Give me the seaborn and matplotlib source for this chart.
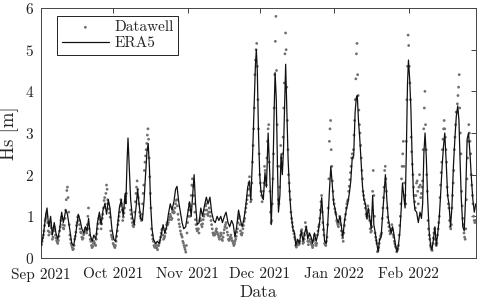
import numpy as np
import pandas as pd
import matplotlib
matplotlib.use("Agg")
import matplotlib.pyplot as plt
import matplotlib.dates as mdates
import seaborn as sns

# ---------------- data ----------------
start = "2021-09-01"

# ERA5 (knot times in days since 1 Sep 2021, Hs in m)
era5_day = [0.0, 1.0, 2.0, 2.5, 3.2, 4.0, 4.7, 5.5, 6.2, 7.0, 7.8, 8.6, 9.3, 10.3, 11.0, 11.8, 12.8, 13.6, 14.5, 15.5,
            16.3, 17.0, 17.8, 18.5, 19.2, 19.8, 20.5, 21.3, 22.0, 22.8, 23.5, 24.3, 25.0, 25.8, 26.6, 27.3, 28.0, 28.7,
            29.5, 30.3, 31.0,
            31.8, 32.6, 33.4, 34.2, 35.0, 35.3, 35.8, 36.2, 36.7, 37.3, 38.0, 38.8, 39.6, 40.2, 40.8, 41.5, 42.2, 42.9,
            43.5, 44.1, 44.6, 45.1, 45.6, 46.2, 46.8, 47.6, 48.4, 49.2, 50.0, 50.8, 51.5, 52.3, 53.0, 53.8, 54.5, 55.3,
            56.0, 56.6, 57.3, 58.0, 58.7, 59.4, 60.2,
            61.0, 61.8, 62.5, 63.2, 63.7, 64.3, 65.0, 65.8, 66.5, 67.2, 68.0, 68.8, 69.5, 70.3, 71.0, 71.8, 72.5, 73.3,
            74.0, 74.8, 75.5, 76.3, 77.0, 77.8, 78.5, 79.3, 80.0, 80.7, 81.4, 82.2, 83.0, 83.7, 84.5, 85.3, 86.0, 86.7,
            87.3, 88.0, 88.6, 89.2, 89.6, 90.0, 90.5, 91.0,
            91.5, 92.5, 93.2, 93.8, 94.5, 95.2, 95.8, 96.5, 97.0, 97.4, 97.9, 98.4, 98.8, 99.4, 99.9, 100.4, 100.9,
            101.4, 101.8, 102.3, 102.8, 103.4, 104.0, 104.8, 105.5, 106.0, 106.8, 107.5, 108.3, 109.0, 109.7, 110.4,
            111.0, 111.7, 112.4, 113.0, 113.8, 114.5, 115.3, 116.0, 116.8, 117.5, 118.0, 118.7, 119.3, 120.0, 120.6,
            121.2,
            121.8, 122.3, 123.0, 123.7, 124.4, 125.0, 125.6, 126.3, 127.0, 127.6, 128.3, 128.9, 129.5, 130.1, 130.7,
            131.2, 131.6, 132.1, 132.6, 133.2, 133.8, 134.4, 135.0, 135.6, 136.2, 136.8, 137.4, 138.0, 138.5, 139.1,
            139.7, 140.3, 140.9, 141.5, 142.1, 142.7, 143.3, 143.9, 144.5, 145.1, 145.7, 146.3, 146.9, 147.5, 148.1,
            148.7, 149.3, 149.9, 150.4, 151.0, 151.5, 152.0, 152.5, 152.9,
            153.4, 153.9, 154.4, 155.0, 155.6, 156.3, 157.0, 157.7, 158.3, 158.8, 159.3, 159.8, 160.3, 160.9, 161.5,
            162.1, 162.7, 163.3, 163.9, 164.5, 165.1, 165.7, 166.3, 166.9, 167.5, 168.0, 168.6, 169.2, 169.8, 170.4,
            171.0, 171.6, 172.2, 172.8, 173.4, 173.9, 174.4, 174.9, 175.5, 176.1, 176.7, 177.3, 177.9, 178.5, 179.1,
            179.7, 180.3, 180.9]
era5_hs = [0.30, 0.55, 1.05, 1.20, 0.75, 1.00, 0.55, 0.85, 0.60, 0.45, 0.70, 1.10, 0.85, 1.15, 1.05, 0.75, 0.35, 0.30,
           0.60, 1.05, 0.90, 0.70, 0.60, 0.75, 0.65, 0.95, 0.55, 0.40, 0.55, 0.45, 0.85, 1.10, 0.80, 1.15, 1.30, 1.05,
           1.40, 1.20, 0.70, 0.45, 0.40,
           0.75, 1.20, 1.40, 1.00, 1.55, 1.30, 2.30, 2.88, 2.20, 1.40, 1.00, 0.80, 1.25, 1.65, 1.30, 0.95, 0.90, 1.40,
           2.00, 2.55, 2.75, 2.20, 1.30, 0.70, 0.45, 0.35, 0.40, 0.35, 0.55, 0.80, 0.60, 0.75, 1.05, 1.30, 1.15, 1.35,
           1.65, 1.72, 1.35, 1.10, 0.85, 0.70, 0.75,
           1.05, 1.35, 1.00, 1.60, 2.00, 1.30, 0.80, 0.85, 1.20, 1.00, 1.25, 1.46, 1.30, 1.46, 1.10, 0.90, 0.85, 1.00,
           0.90, 1.00, 0.85, 1.00, 1.10, 0.85, 0.75, 0.90, 0.80, 0.50, 0.75, 1.15, 0.90, 0.75, 0.95, 1.30, 1.70, 1.85,
           1.40, 2.40, 3.50, 4.60, 5.00, 4.50, 3.00, 2.00,
           1.60, 1.40, 2.05, 1.70, 3.00, 2.00, 0.80, 2.00, 3.50, 4.45, 3.80, 2.20, 1.10, 1.50, 2.50, 2.00, 2.60,
           3.80, 4.65, 3.50, 2.40, 1.60, 1.10, 0.70, 0.60, 0.30, 0.45, 0.35, 0.65, 0.40, 0.60, 0.75,
           0.45, 0.60, 0.50, 0.35, 0.60, 0.40, 0.60, 0.90, 1.45, 0.80, 0.40, 0.35, 0.80, 1.60, 2.20,
           1.75,
           1.30, 1.20, 0.95, 0.85, 1.00, 0.75, 0.50, 0.90, 1.15, 1.30, 1.55, 1.85, 2.40, 2.45, 3.50,
           3.85, 3.90, 3.30, 2.90, 2.30, 1.70, 1.40, 1.30, 0.95, 1.20, 0.95, 0.70, 1.50, 0.80, 0.60,
           0.35, 0.15, 0.45, 0.50, 1.00, 1.50, 2.00, 1.40, 0.95, 0.75, 0.60, 0.75, 0.55, 0.30, 0.15,
           0.30, 0.60, 1.20, 1.80, 1.45, 1.20, 2.50, 4.20, 4.75,
           4.30, 3.60, 2.45, 1.50, 1.15, 1.10, 0.85, 1.10, 0.95, 1.30, 2.50, 3.00, 2.45, 1.40, 0.65,
           0.30, 0.20, 0.45, 0.75, 0.30, 0.60, 0.95, 1.55, 2.20, 2.70, 3.00, 2.30, 1.50, 1.27, 0.75,
           1.25, 2.20, 2.85, 3.40, 3.65, 3.30, 2.30, 1.40, 0.75, 0.65, 1.50, 2.85, 3.00, 2.50, 1.90,
           1.40, 1.10, 1.30]

# Datawell buoy, one value every 6 h (4 per day, one row per day), by month
nan = np.nan
dw_sep = [0.30, 0.33, 0.40, 0.48, 0.55, 0.65, 0.78, 0.90, 0.95, 1.05, 1.00, 0.85, 0.65, 0.55, 0.62, 0.78,
          0.85, 0.72, 0.58, 0.45, 0.50, 0.65, 0.75, 0.70, 0.55, 0.48, 0.42, 0.38, 0.35, 0.42, 0.52, 0.65,
          0.75, 0.90, 0.98, 0.95, 0.80, 0.72, 0.70, 0.78, 0.95, 1.15, 1.40, 1.62, 1.70, 1.45, 1.10, 0.80,
          0.55, 0.45, 0.35, 0.30, 0.25, 0.20, 0.22, 0.30, 0.45, 0.52, 0.62, 0.78, 0.85, 0.98, 1.00, 0.90,
          0.80, 0.70, 0.62, 0.60, 0.50, 0.45, 0.48, 0.56, 0.60, 0.68, 0.72, 0.65, 0.60, 0.80, 1.00, 1.20,
          0.70, 0.55, 0.45, 0.40, 0.30, 0.25, 0.28, 0.35, 0.40, 0.36, 0.32, 0.30, 0.45, 0.58, 0.70, 0.82,
          0.95, 1.00, 0.92, 0.85, 0.70, 0.82, 0.95, 1.05, 1.20, 1.38, 1.45, 1.30, 1.55, 1.75, 1.65, 1.40,
          1.30, 1.18, 1.08, 0.98, 0.65, 0.55, 0.50, 0.45]
dw_oct = [0.35, 0.32, 0.28, 0.25, 0.30, 0.40, 0.52, 0.65, 0.80, 0.90, 1.00, 1.10, 1.25, 1.40, 1.30, 1.15,
          0.90, 0.98, 1.08, 1.20, 1.35, 1.48, 1.55, nan, nan, nan, nan, nan, nan, 1.15, 1.05, 0.95,
          0.85, 0.78, 0.75, 0.80, 1.10, 1.35, 1.55, 1.70, 1.85, 1.65, 1.45, 1.30, 1.10, 1.00, 0.95, 0.90,
          1.05, 1.30, 1.55, 1.75, 2.10, 2.30, 2.45, 2.60, 2.75, 2.95, 3.10, 2.85, 2.40, 1.95, 1.55, 1.20,
          0.70, 0.55, 0.45, 0.40, 0.30, 0.27, 0.25, 0.35, 0.30, 0.24, 0.20, 0.30, 0.30, 0.36, 0.42, 0.50,
          0.60, 0.68, 0.70, 0.55, 0.45, 0.48, 0.52, 0.60, 0.70, 0.80, 0.85, 0.80, 0.85, 0.92, 0.98, 1.05,
          1.00, 0.92, 0.95, 1.10, 1.15, 1.08, 1.10, 1.20, 1.30, 1.38, 1.40, 1.25, 1.05, 0.92, 0.82, 0.75,
          0.65, 0.58, 0.54, 0.50, 0.40, 0.36, 0.30, 0.25, 0.20, 0.14, 0.30, 0.60]
dw_nov = [0.85, 1.00, 1.15, 1.30, 1.00, 1.25, 1.50, 1.75, 1.90, 1.72, 1.50, 1.30, 1.10, 0.92, 0.80, 0.70,
          0.65, 0.68, 0.70, 0.60, 0.90, 0.95, 0.90, 0.80, 0.75, 0.82, 0.92, 1.00, 1.05, 1.15, 1.25, 1.30,
          1.15, 1.05, 1.02, 1.10, 1.20, 1.10, 1.00, 0.90, 0.80, 0.70, 0.60, 0.55, 0.60, 0.55, 0.58, 0.65,
          0.70, 0.62, 0.58, 0.55, 0.50, 0.45, 0.52, 0.60, 0.55, 0.45, 0.42, 0.50, 0.60, 0.68, 0.75, 0.80,
          0.85, 0.72, 0.62, 0.55, 0.45, 0.42, 0.45, 0.50, 0.55, 0.48, 0.42, 0.40, 0.35, 0.30, 0.34, 0.40,
          0.45, 0.52, 0.62, 0.70, 0.85, 0.95, 1.00, 0.80, 0.65, 0.58, 0.55, 0.60, 0.70, 0.78, 0.88, 0.95,
          1.10, 1.20, 1.30, 1.40, 1.50, 1.65, 1.80, 1.95, 1.50, 1.35, 1.40, 1.80, 2.30, 2.70, 3.10, 3.60,
          4.40, 4.75, 5.00, 5.15, 4.60, 3.80, 3.10, 2.50]
dw_dec = [2.00, 1.80, 1.60, 1.50, 1.35, 1.45, 1.60, 1.80, 2.20, 2.10, 1.90, 1.75, 2.40, 2.80, 3.10, 3.20,
          2.30, 1.60, 1.10, 0.85, 0.90, 1.30, 1.90, 2.50, 3.60, 4.40, 5.20, 5.80, 4.50, 3.20, 2.20, 1.40,
          1.30, 1.70, 2.20, 2.70, 2.40, 2.25, 2.50, 2.90, 3.60, 4.20, 4.90, 5.40, 5.00, 4.10, 3.30, 2.60,
          2.00, 1.80, 1.60, 1.40, 1.10, 0.95, 0.85, 0.75, 0.65, 0.58, 0.50, 0.45, 0.30, 0.26, 0.30, 0.40,
          0.35, 0.32, 0.34, 0.40, 0.55, 0.65, 0.68, 0.60, 0.35, 0.38, 0.45, 0.55, 0.85, 0.75, 0.65, 0.60,
          0.40, 0.32, 0.40, 0.55, 0.45, 0.38, 0.34, 0.30, 0.25, 0.30, 0.42, 0.55, 0.45, 0.35, 0.30, 0.35,
          0.55, 0.65, 0.75, 0.80, 0.95, 1.15, 1.35, 1.50, 1.10, 0.85, 0.68, 0.55, 0.35, 0.32, 0.30, 0.40,
          0.50, 0.80, 1.20, 1.90, 2.80, 3.10, 3.30, 2.60, 2.20, 1.85, 1.60, 1.40]
dw_jan = [1.30, 1.18, 1.10, 1.05, 0.90, 0.85, 0.80, 0.75, 0.85, 1.00, 0.95, 0.80, 0.65, 0.55, 0.48, 0.40,
          0.60, 0.78, 0.92, 1.05, 1.20, 1.30, 1.36, 1.40, 1.60, 1.72, 1.88, 2.05, 2.20, 2.40, 2.50, 2.40,
          2.60, 2.95, 3.30, 3.80, 4.30, 4.90, 5.15, 4.40, 3.90, 3.55, 3.20, 3.00, 2.70, 2.40, 2.10, 1.90,
          1.60, 1.50, 1.40, 1.30, 1.20, 1.05, 1.00, 0.95, 1.25, 1.15, 1.00, 0.90, 0.70, 0.62, 0.65, 0.75,
          1.60, 2.10, 1.50, 1.00, 0.60, 0.50, 0.42, 0.35, 0.15, 0.18, 0.25, 0.35, 0.45, 0.52, 0.56, 0.60,
          0.95, 1.20, 1.45, 1.70, 2.10, 2.20, 1.90, 1.60, 1.20, 0.98, 0.85, 0.75, 0.65, 0.58, 0.60, 0.70,
          0.80, 0.68, 0.56, 0.50, 0.40, 0.34, 0.28, 0.25, 0.15, 0.18, 0.22, 0.30, 0.55, 0.78, 1.00, 1.30,
          1.90, 2.20, 2.50, 2.80, 2.20, 1.80, 1.50, 1.30, 2.80, 3.80, 4.60, 5.35]
dw_feb = [5.10, 4.60, 4.20, 3.80, 2.90, 2.55, 2.25, 2.00, 1.70, 1.50, 1.35, 1.20, 1.50, 1.80, 1.85, 1.60,
          1.30, 1.70, 2.00, 1.75, 1.45, 1.55, 1.70, 1.85, 2.60, 3.10, 3.60, 4.00, 3.20, 2.60, 2.00, 1.60,
          0.90, 0.70, 0.55, 0.45, 0.30, 0.25, 0.20, 0.18, 0.35, 0.48, 0.60, 0.70, 0.45, 0.34, 0.30, 0.35,
          0.55, 0.70, 0.85, 1.00, 1.45, 1.75, 2.05, 2.30, 2.60, 2.85, 3.10, 3.30, 3.10, 2.90, 2.60, 2.30,
          1.70, 1.50, 1.30, 1.20, 0.90, 0.75, 0.70, 0.80, 1.20, 1.50, 1.80, 2.10, 2.60, 2.90, 3.20, 3.50,
          3.50, 3.70, 3.90, 4.10, 4.40, 3.60, 3.00, 2.50, 1.60, 1.25, 0.95, 0.80, 0.60, 0.50, 0.45, 0.70,
          1.40, 1.90, 2.40, 2.80, 3.20, 3.00, 2.80, 2.50, 2.00, 1.75, 1.50, 1.30, 1.00, 0.90, 0.85, 0.90]

x_ticks = ["2021-09-01", "2021-10-01", "2021-11-01", "2021-12-01", "2022-01-01", "2022-02-01"]
y_ticks = [0, 1, 2, 3, 4, 5, 6]

# ---------------- frames ----------------
t0 = pd.Timestamp(start)
era5 = pd.DataFrame({"time": t0 + pd.to_timedelta(era5_day, unit="D"), "Hs": era5_hs})
dw_vals = dw_sep + dw_oct + dw_nov + dw_dec + dw_jan + dw_feb
dw = pd.DataFrame({"time": pd.date_range(start, periods=len(dw_vals), freq="6h"), "Hs": dw_vals})

# ---------------- style ----------------
sns.set_style("white")
plt.rcParams["font.family"] = ["cmr10", "DejaVu Serif"]
plt.rcParams["mathtext.fontset"] = "cm"
plt.rcParams["axes.formatter.use_mathtext"] = True
plt.rcParams["axes.unicode_minus"] = False

fig = plt.figure(figsize=(4.8, 3.04), dpi=100)
ax = fig.add_axes([41 / 480, 1 - 258 / 304, 435 / 480, 250 / 304])

sns.scatterplot(data=dw, x="time", y="Hs", ax=ax, s=4, color="#707070", edgecolor="none",
                marker="o", label="Datawell", zorder=2)
sns.lineplot(data=era5, x="time", y="Hs", ax=ax, color="#111111", linewidth=0.9,
             label="ERA5", zorder=3, estimator=None, sort=False)

ax.set_xlim(pd.Timestamp("2021-09-01"), pd.Timestamp("2022-03-01"))
ax.set_ylim(0, 6)
ax.set_yticks(y_ticks)
ax.set_xticks(pd.to_datetime(x_ticks))
ax.xaxis.set_major_formatter(mdates.DateFormatter("%b %Y"))

ax.tick_params(direction="in", length=3.5, width=0.6, top=True, right=True,
               labelsize=11, colors="#222222")
ax.tick_params(axis="x", pad=7)
ax.tick_params(axis="y", pad=5)
for sp in ax.spines.values():
    sp.set_visible(True)
    sp.set_color("#444444")
    sp.set_linewidth(0.7)

ax.set_xlabel("Data", fontsize=12.5, labelpad=2)
ax.set_ylabel("Hs [m]", fontsize=13.5, labelpad=4)

leg = ax.legend(loc="upper left", bbox_to_anchor=(0.037, 0.968), fontsize=11,
                frameon=True, fancybox=False, edgecolor="black", framealpha=1,
                handlelength=3.1, handletextpad=0.35, borderpad=0.3, labelspacing=0.15,
                markerscale=1.0, borderaxespad=0)
leg.get_frame().set_linewidth(0.6)

fig.savefig("out.png", dpi=100)
